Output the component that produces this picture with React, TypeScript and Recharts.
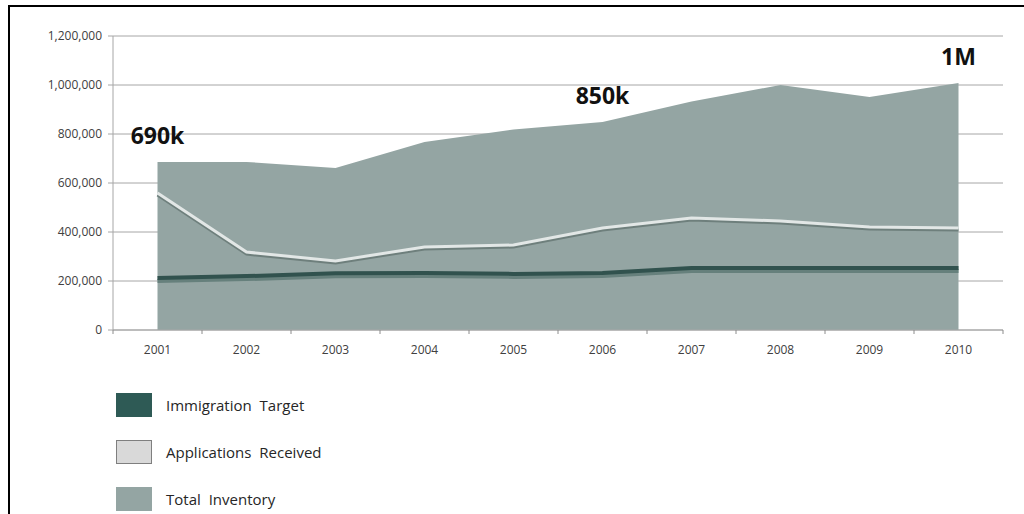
import React from 'react';
import { ComposedChart, Area, Line, XAxis, YAxis, CartesianGrid, Legend, ReferenceDot } from 'recharts';

const years = ['2001', '2002', '2003', '2004', '2005', '2006', '2007', '2008', '2009', '2010'];
const totalInventory = [686000, 686000, 661000, 767000, 818000, 849000, 933000, 1000000, 951000, 1008000];
const applicationsReceived = [559000, 318000, 282000, 339000, 347000, 416000, 457000, 445000, 420000, 416000];
const immigrationTarget = [212000, 220000, 232000, 233000, 229000, 233000, 253000, 253000, 253000, 253000];
const yTicks = [0, 200000, 400000, 600000, 800000, 1000000, 1200000];
const legendOrder = ['Immigration Target', 'Applications Received', 'Total Inventory'];
const annotations = [
  { year: '2001', text: '690k' },
  { year: '2006', text: '850k' },
  { year: '2010', text: '1M' },
];

const data = years.map((year, i) => ({
  year,
  total: totalInventory[i],
  applications: applicationsReceived[i],
  target: immigrationTarget[i],
}));

const legendColors: Record<string, { fill: string; border: string }> = {
  'Immigration Target': { fill: '#2e5a55', border: '#2e5a55' },
  'Applications Received': { fill: '#d9d9d9', border: '#7f7f7f' },
  'Total Inventory': { fill: '#94a5a3', border: '#94a5a3' },
};

const BAND = 89;

const XTick = (props: any) => {
  const { x, y, payload, index } = props;
  return (
    <g>
      {index === 0 && <line x1={x - BAND / 2} x2={x - BAND / 2} y1={y} y2={y + 4} stroke="#8c8c8c" />}
      <line x1={x + BAND / 2} x2={x + BAND / 2} y1={y} y2={y + 4} stroke="#8c8c8c" />
      <text x={x} y={y + 24} textAnchor="middle" fontSize={12} fill="#404040" fontFamily="Open Sans">
        {payload.value}
      </text>
    </g>
  );
};

const renderLegend = (props: any) => {
  const payload = props.payload || [];
  const items = legendOrder
    .map((name) => payload.find((p: any) => p.value === name))
    .filter(Boolean);
  return (
    <div style={{ fontFamily: 'Open Sans', fontSize: 15, color: '#262626' }}>
      {items.map((item: any) => {
        const c = legendColors[item.value];
        return (
          <div key={item.value} style={{ display: 'flex', alignItems: 'center', height: 24, marginBottom: 23 }}>
            <div
              style={{
                width: 34,
                height: 22,
                background: c.fill,
                border: `1px solid ${c.border}`,
                marginRight: 14,
              }}
            />
            <span style={{ wordSpacing: 4 }}>{item.value}</span>
          </div>
        );
      })}
    </div>
  );
};

const App = () => {
  return (
    <div style={{ position: 'absolute', left: 0, top: 0, width: 1024, height: 514, background: '#fff', overflow: 'hidden' }}>
      <div
        style={{
          position: 'absolute',
          left: 8,
          top: 5,
          width: 1040,
          height: 520,
          borderTop: '2px solid #000',
          borderLeft: '2px solid #000',
          boxSizing: 'border-box',
        }}
      />
      <ComposedChart
        width={1024}
        height={514}
        data={data}
        margin={{ top: 36, right: 21, bottom: 154, left: 43 }}
      >
        <CartesianGrid horizontal vertical={false} stroke="#a6a6a6" strokeWidth={1} />
        <XAxis
          dataKey="year"
          padding={{ left: BAND / 2, right: BAND / 2 }}
          tickSize={0}
          tickMargin={0}
          height={30}
          interval={0}
          axisLine={{ stroke: '#a6a6a6' }}
          tick={<XTick />}
        />
        <YAxis
          width={70}
          domain={[0, 1200000]}
          ticks={yTicks}
          interval={0}
          tickSize={5}
          tickMargin={6}
          axisLine={{ stroke: '#a6a6a6' }}
          tickLine={{ stroke: '#a6a6a6' }}
          tick={{ fontSize: 12, fill: '#404040', fontFamily: 'Open Sans' }}
          tickFormatter={(v: number) => v.toLocaleString('en-US')}
        />
        <Area
          type="linear"
          dataKey="total"
          name="Total Inventory"
          fill="#94a5a3"
          fillOpacity={1}
          stroke="none"
          isAnimationActive={false}
        />
        <Line
          type="linear"
          dataKey="applications"
          name="Applications Received"
          stroke="#e2e7e6"
          strokeWidth={3}
          dot={false}
          style={{ filter: 'drop-shadow(0px 2px 0px #6e7f7c)' }}
          isAnimationActive={false}
        />
        <Line
          type="linear"
          dataKey="target"
          name="Immigration Target"
          stroke="#31524e"
          strokeWidth={4}
          dot={false}
          style={{ filter: 'drop-shadow(0px 3px 0px #66807c)' }}
          isAnimationActive={false}
        />
        {annotations.map((a) => (
          <ReferenceDot
            key={a.year}
            x={a.year}
            y={totalInventory[years.indexOf(a.year)]}
            r={0}
            stroke="none"
            label={{
              value: a.text,
              position: 'top',
              offset: 18,
              fontSize: 23,
              fontWeight: 700,
              fill: '#111',
              fontFamily: 'Open Sans',
            }}
          />
        ))}
        <Legend
          layout="vertical"
          align="center"
          verticalAlign="middle"
          content={renderLegend}
          wrapperStyle={{ left: 116, top: 393, width: 300, height: 120 }}
        />
      </ComposedChart>
    </div>
  );
};

export default App;
